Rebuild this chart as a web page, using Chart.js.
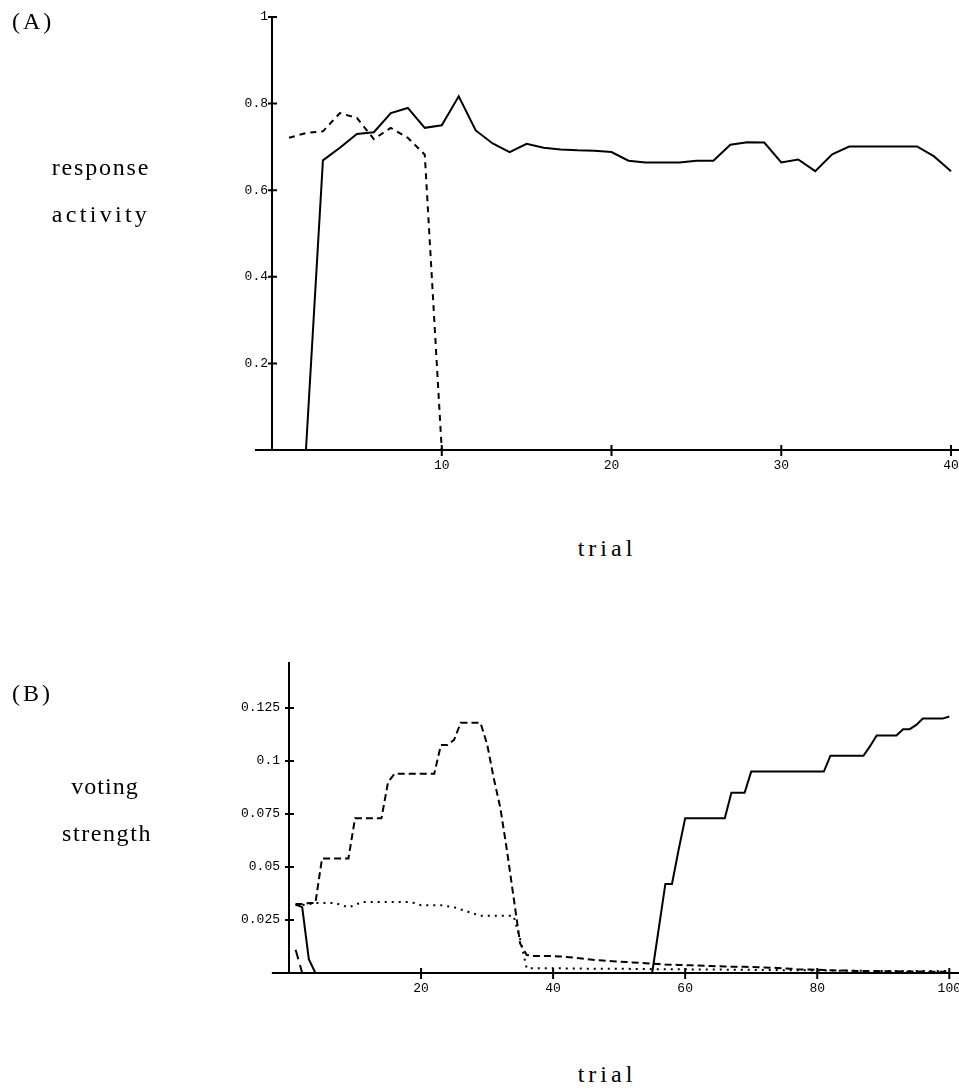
<!DOCTYPE html>
<html>
<head>
<meta charset="utf-8">
<script src="https://cdn.jsdelivr.net/npm/chart.js@4.4.0/dist/chart.umd.min.js"></script>
<style>
  body { margin: 0; background: #fff; }
  #page { position: relative; width: 959px; height: 1090px; overflow: hidden; background: #fff; }
  canvas { position: absolute; left: 0; }
  .lbl { position: absolute; font-family: 'Liberation Serif', serif; font-size: 24px; line-height: 24px; color: #000; white-space: nowrap; }
  .ctr { width: 200px; text-align: center; }
</style>
</head>
<body>
<div id="page">
  <canvas id="chartA" width="959" height="500" style="top:0"></canvas>
  <canvas id="chartB" width="959" height="420" style="top:600px"></canvas>

  <div class="lbl" style="left:12px; top:9px; letter-spacing:3px">(A)</div>
  <div class="lbl ctr" style="left:1px; top:155px; letter-spacing:1.8px">response</div>
  <div class="lbl ctr" style="left:1px; top:202px; letter-spacing:3.3px">activity</div>
  <div class="lbl ctr" style="left:507px; top:536px; letter-spacing:4px">trial</div>

  <div class="lbl" style="left:12px; top:681px; letter-spacing:3px">(B)</div>
  <div class="lbl ctr" style="left:5px; top:774px; letter-spacing:1px">voting</div>
  <div class="lbl ctr" style="left:7px; top:821px; letter-spacing:1.6px">strength</div>
  <div class="lbl ctr" style="left:507px; top:1062px; letter-spacing:4px">trial</div>
</div>
<script>
// (A) response activity
const trialsA = [0, 1, 2, 3, 4, 5, 6, 7, 8, 9, 10, 11, 12, 13, 14, 15, 16, 17, 18, 19, 20,
  21, 22, 23, 24, 25, 26, 27, 28, 29, 30, 31, 32, 33, 34, 35, 36, 37, 38, 39, 40]
const solidA = [0, 0, 0, 0.669, 0.698, 0.73, 0.734, 0.778, 0.79, 0.744, 0.75,
  0.817, 0.738, 0.708, 0.688, 0.707, 0.698, 0.694, 0.692, 0.691, 0.688,
  0.668, 0.664, 0.664, 0.664, 0.668, 0.668, 0.705, 0.711, 0.71, 0.664,
  0.671, 0.644, 0.683, 0.701, 0.701, 0.701, 0.701, 0.701, 0.678, 0.644]
const trialsDashA = [1, 2, 3, 4, 5, 6, 7, 8, 9, 10]
const dashA = [0.721, 0.732, 0.736, 0.778, 0.767, 0.718, 0.744, 0.721, 0.682, 0]
const xTicksA = [10, 20, 30, 40]
const yTicksA = [0.2, 0.4, 0.6, 0.8, 1]
const yTickLabelsA = ['0.2', '0.4', '0.6', '0.8', '1']

// (B) voting strength
const trialsB = [1, 2, 3, 4, 5, 6, 7, 8, 9, 10, 11, 12, 13, 14, 15, 16, 17, 18, 19, 20,
  21, 22, 23, 24, 25, 26, 27, 28, 29, 30, 31, 32, 33, 34, 35, 36, 37, 38, 39, 40,
  41, 42, 43, 44, 45, 46, 47, 48, 49, 50, 51, 52, 53, 54, 55, 56, 57, 58, 59, 60,
  61, 62, 63, 64, 65, 66, 67, 68, 69, 70, 71, 72, 73, 74, 75, 76, 77, 78, 79, 80,
  81, 82, 83, 84, 85, 86, 87, 88, 89, 90, 91, 92, 93, 94, 95, 96, 97, 98, 99, 100]
const solidB = [
  0.0325, 0.031, 0.0065, 0, 0, 0, 0, 0, 0, 0,
  0, 0, 0, 0, 0, 0, 0, 0, 0, 0,
  0, 0, 0, 0, 0, 0, 0, 0, 0, 0,
  0, 0, 0, 0, 0, 0, 0, 0, 0, 0,
  0, 0, 0, 0, 0, 0, 0, 0, 0, 0,
  0, 0, 0, 0, 0, 0.021, 0.042, 0.042, 0.058, 0.073,
  0.073, 0.073, 0.073, 0.073, 0.073, 0.073, 0.085, 0.085, 0.085, 0.095,
  0.095, 0.095, 0.095, 0.095, 0.095, 0.095, 0.095, 0.095, 0.095, 0.095,
  0.095, 0.1025, 0.1025, 0.1025, 0.1025, 0.1025, 0.1025, 0.107, 0.112, 0.112,
  0.112, 0.112, 0.115, 0.115, 0.117, 0.12, 0.12, 0.12, 0.12, 0.121]
const dashB = [
  0.0325, 0.0325, 0.033, 0.033, 0.054, 0.054, 0.054, 0.054, 0.054, 0.073,
  0.073, 0.073, 0.073, 0.073, 0.09, 0.094, 0.094, 0.094, 0.094, 0.094,
  0.094, 0.094, 0.1075, 0.1075, 0.11, 0.118, 0.118, 0.118, 0.118, 0.108,
  0.092, 0.078, 0.058, 0.036, 0.014, 0.0085, 0.008, 0.008, 0.008, 0.008,
  0.0078, 0.0076, 0.0073, 0.007, 0.0066, 0.0062, 0.006, 0.0058, 0.0056, 0.0054,
  0.0052, 0.005, 0.0048, 0.0046, 0.0044, 0.0042, 0.004, 0.0039, 0.0038, 0.0037,
  0.0036, 0.0035, 0.0034, 0.0033, 0.0032, 0.0031, 0.003, 0.003, 0.0029, 0.0028,
  0.0027, 0.0026, 0.0025, 0.0024, 0.0022, 0.002, 0.0018, 0.0017, 0.0016, 0.0015,
  0.0014, 0.0013, 0.0012, 0.0012, 0.0011, 0.001, 0.001, 0.0009, 0.0009, 0.0008,
  0.0008, 0.0008, 0.0007, 0.0007, 0.0007, 0.0007, 0.0006, 0.0006, 0.0006, 0.0006]
const dotB = [
  0.032, 0.032, 0.0325, 0.033, 0.033, 0.033, 0.033, 0.032, 0.031, 0.032,
  0.0335, 0.0335, 0.0335, 0.0335, 0.0335, 0.0335, 0.0335, 0.0335, 0.033, 0.032,
  0.032, 0.032, 0.032, 0.0315, 0.031, 0.03, 0.029, 0.028, 0.027, 0.027,
  0.027, 0.027, 0.027, 0.027, 0.016, 0.0022, 0.0022, 0.0022, 0.0022, 0.0022,
  0.0022, 0.0021, 0.0021, 0.0021, 0.002, 0.002, 0.002, 0.002, 0.002, 0.002,
  0.002, 0.0019, 0.0019, 0.0019, 0.0018, 0.0018, 0.0018, 0.0018, 0.0018, 0.0018,
  0.0017, 0.0017, 0.0016, 0.0016, 0.0016, 0.0016, 0.0015, 0.0015, 0.0015, 0.0015,
  0.0014, 0.0014, 0.0014, 0.0014, 0.0013, 0.0013, 0.0013, 0.0013, 0.0012, 0.0012,
  0.0012, 0.0012, 0.0011, 0.0011, 0.0011, 0.0011, 0.001, 0.001, 0.001, 0.001,
  0.001, 0.001, 0.001, 0.001, 0.001, 0.001, 0.001, 0.001, 0.001, 0.001]
const trialsLongB = [1, 2]
const longDashB = [0.011, 0]
const xTicksB = [20, 40, 60, 80, 100]
const yTicksB = [0.025, 0.05, 0.075, 0.1, 0.125]
const yTickLabelsB = ['0.025', '0.05', '0.075', '0.1', '0.125']

const tickFont = { family: "'Liberation Mono', 'DejaVu Sans Mono', monospace", size: 13 }

const toPoints = (xs, ys) => xs.map((x, i) => ({ x: x, y: ys[i] }))

// axes that cross at the origin, with tick marks crossing the lines
function crossAxes(xStart) {
  return {
    id: 'crossAxes',
    afterDatasetsDraw(chart) {
      const { ctx, chartArea } = chart
      const sx = chart.scales.x
      const sy = chart.scales.y
      const x0 = sx.getPixelForValue(0)
      const y0 = sy.getPixelForValue(0)
      ctx.save()
      ctx.strokeStyle = '#000'
      ctx.lineWidth = 2
      ctx.beginPath()
      ctx.moveTo(sx.getPixelForValue(xStart), y0)
      ctx.lineTo(chartArea.right, y0)
      ctx.moveTo(x0, y0)
      ctx.lineTo(x0, chartArea.top)
      ctx.stroke()
      ctx.beginPath()
      sx.ticks.forEach(t => {
        const px = sx.getPixelForValue(t.value)
        ctx.moveTo(px, y0 - 5)
        ctx.lineTo(px, y0 + 6)
      })
      sy.ticks.forEach(t => {
        const py = sy.getPixelForValue(t.value)
        ctx.moveTo(x0 - 4, py)
        ctx.lineTo(x0 + 5, py)
      })
      ctx.stroke()
      ctx.restore()
    },
  }
}

function lineSet(points, dash, width) {
  return {
    data: points,
    borderColor: '#000',
    borderWidth: width || 2,
    borderDash: dash || [],
    pointRadius: 0,
    tension: 0,
    fill: false,
  }
}

function makeScales(xMax, xTicks, yMax, yTicks, yLabels, yPad) {
  return {
    x: {
      type: 'linear',
      min: 0,
      max: xMax,
      afterBuildTicks: s => { s.ticks = xTicks.map(v => ({ value: v })) },
      afterFit: s => { s.height = 30; s.paddingLeft = 0; s.paddingRight = 0 },
      grid: { display: false, drawTicks: false },
      border: { display: false },
      ticks: {
        autoSkip: false, maxRotation: 0, padding: 8, color: '#000', font: tickFont,
        callback: (v, i) => String(xTicks[i]),
      },
    },
    y: {
      type: 'linear',
      min: 0,
      max: yMax,
      afterBuildTicks: s => { s.ticks = yTicks.map(v => ({ value: v })) },
      afterFit: s => { s.width = 50; s.paddingTop = 0; s.paddingBottom = 0 },
      grid: { display: false, drawTicks: false },
      border: { display: false },
      ticks: {
        autoSkip: false, padding: yPad, color: '#000', font: tickFont,
        callback: (v, i) => yLabels[i],
      },
    },
  }
}

const commonPlugins = { legend: { display: false }, tooltip: { enabled: false } }

new Chart(document.getElementById('chartA').getContext('2d'), {
  type: 'line',
  data: {
    datasets: [
      lineSet(toPoints(trialsA, solidA)),
      lineSet(toPoints(trialsDashA, dashA), [6, 5]),
    ],
  },
  options: {
    responsive: false,
    animation: false,
    events: [],
    layout: { padding: { left: 222, top: 17, right: 0, bottom: 20 } },
    scales: makeScales(40.47, xTicksA, 1, yTicksA, yTickLabelsA, 4),
    plugins: commonPlugins,
  },
  plugins: [crossAxes(-1)],
})

new Chart(document.getElementById('chartB').getContext('2d'), {
  type: 'line',
  data: {
    datasets: [
      lineSet(toPoints(trialsB, solidB)),
      lineSet(toPoints(trialsB, dashB), [7, 4]),
      lineSet(toPoints(trialsB, dotB), [2, 5]),
      lineSet(toPoints(trialsLongB, longDashB), [10, 6]),
    ],
  },
  options: {
    responsive: false,
    animation: false,
    events: [],
    layout: { padding: { left: 239, top: 62, right: 0, bottom: 17 } },
    scales: makeScales(101.47, xTicksB, 0.1467, yTicksB, yTickLabelsB, 9),
    plugins: commonPlugins,
  },
  plugins: [crossAxes(-2.6)],
})
</script>
</body>
</html>
